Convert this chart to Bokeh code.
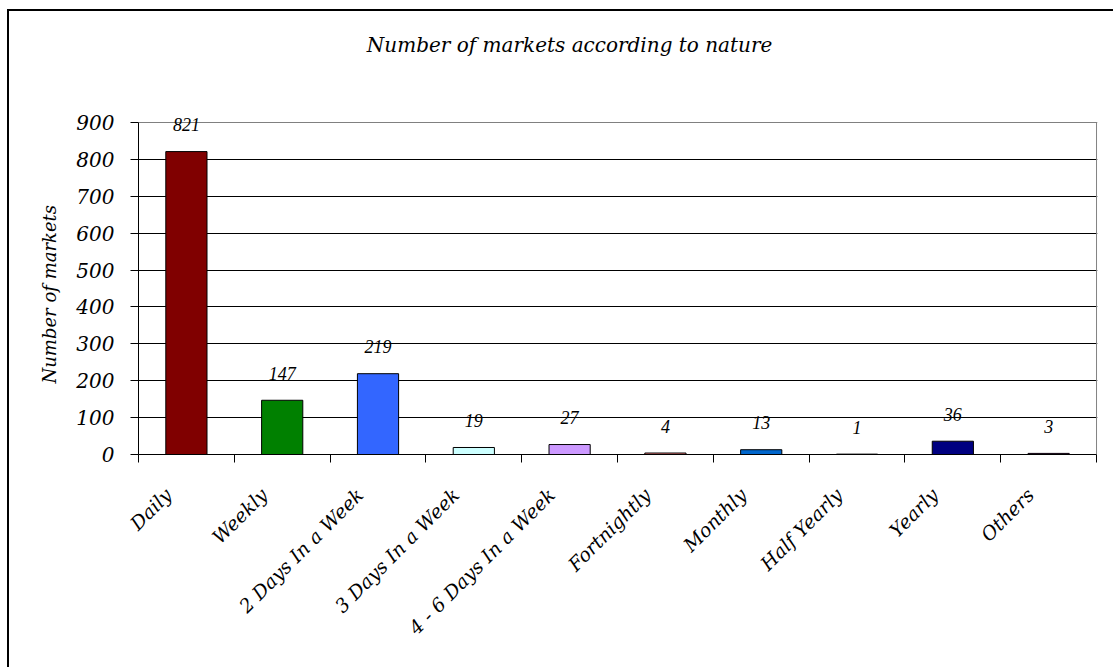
import math
from bokeh.plotting import figure
from bokeh.models import FixedTicker, Range1d, LabelSet, Label, ColumnDataSource, Grid, Title
from bokeh.embed import file_html
from bokeh.resources import INLINE

title = "Number of markets according to nature"
y_title = "Number of markets"
categories = ["Daily", "Weekly", "2 Days In a Week", "3 Days In a Week",
              "4 - 6 Days In a Week", "Fortnightly", "Monthly", "Half Yearly",
              "Yearly", "Others"]
values = [821, 147, 219, 19, 27, 4, 13, 1, 36, 3]
colors = ["#800000", "#008000", "#3366FF", "#CCFFFF", "#CC99FF",
          "#FF8080", "#0066CC", "#CCCCFF", "#000080", "#FF00FF"]
y_ticks = [0, 100, 200, 300, 400, 500, 600, 700, 800, 900]

FONT = "DejaVu Serif"
n = len(categories)
y_max = y_ticks[-1]
centers = [i + 0.5 for i in range(n)]
bounds = list(range(n + 1))
label_pos = [c - 0.19 for c in centers]

src = ColumnDataSource(dict(x=centers, top=values, color=colors,
                            label=[str(v) for v in values]))

# frame extends above the 900 line so the title and value labels sit inside it
p = figure(width=1113, height=667, x_range=Range1d(0, n + 0.01), y_range=Range1d(0, 1160),
           output_backend="svg", toolbar_location=None,
           min_border_left=138, min_border_right=16, min_border_top=26, min_border_bottom=213)
p.border_fill_color = None
p.background_fill_color = "white"
p.outline_line_color = None
p.styles = {"background-color": "white",
            "box-shadow": "inset 0 9px 0 0 #fff, inset 7px 0 0 0 #fff, "
                          "inset 0 11px 0 0 #000, inset 9px 0 0 0 #000"}

p.xgrid.grid_line_color = None
p.ygrid.ticker = FixedTicker(ticks=y_ticks[:-1])
p.ygrid.grid_line_color = "black"
p.ygrid.grid_line_width = 1
# plot-area border (top and right) in grey
p.add_layout(Grid(dimension=1, ticker=FixedTicker(ticks=[y_max]), grid_line_color="#808080",
                  bounds=(0, n)))
p.segment(x0=[n], y0=[0], x1=[n], y1=[y_max], line_color="#808080", line_width=1)

p.vbar(x="x", top="top", width=0.43, bottom=0, fill_color="color",
       line_color="black", line_width=1, source=src)

# value labels
p.add_layout(LabelSet(x="x", y="top", text="label", source=src, y_offset=27,
                      text_align="center", text_baseline="middle",
                      text_font=FONT, text_font_style="italic",
                      text_font_size="18px", text_color="black"))

# chart title
p.add_layout(Label(x=4.5, y=1109, text=title, text_align="center", text_baseline="middle",
                   text_font=FONT, text_font_style="italic", text_font_size="20px",
                   text_color="black"))

# x axis
xa = p.xaxis[0]
xa.ticker = FixedTicker(ticks=label_pos, minor_ticks=bounds)
xa.major_label_overrides = {c: name for c, name in zip(label_pos, categories)}
xa.bounds = (0, n)
xa.major_tick_out = 0
xa.major_tick_in = 0
xa.minor_tick_out = 8
xa.minor_tick_in = 0
xa.minor_tick_line_color = "black"
xa.axis_line_color = "black"
xa.major_label_orientation = math.pi / 4
xa.major_label_standoff = 29
xa.major_label_text_font = FONT
xa.major_label_text_font_style = "italic"
xa.major_label_text_font_size = "19px"
xa.major_label_text_color = "black"

# y axis
ya = p.yaxis[0]
ya.ticker = FixedTicker(ticks=y_ticks)
ya.bounds = (0, y_max)
ya.major_tick_out = 8
ya.major_tick_in = 0
ya.minor_tick_out = 0
ya.minor_tick_in = 0
ya.axis_line_color = "black"
ya.major_tick_line_color = "black"
ya.major_label_standoff = 16
ya.major_label_text_font = FONT
ya.major_label_text_font_style = "italic"
ya.major_label_text_font_size = "20px"
ya.major_label_text_color = "black"

# y-axis title, placed along the 0-900 part of the axis
p.add_layout(Title(text=y_title, align="left", offset=71, standoff=27,
                   text_font=FONT, text_font_style="italic", text_font_size="18px",
                   text_color="black"), "left")

open("out.html", "w").write(file_html(p, INLINE))
